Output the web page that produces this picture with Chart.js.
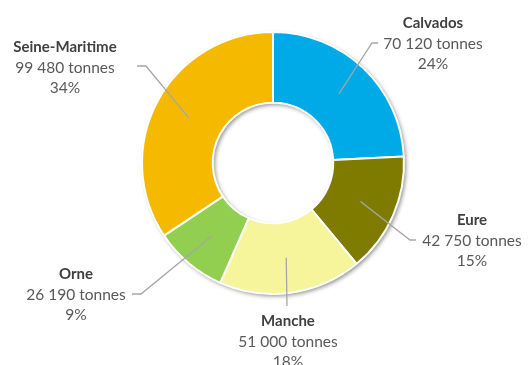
<!DOCTYPE html>
<html>
<head>
<meta charset="utf-8">
<script src="https://cdn.jsdelivr.net/npm/chart.js@4"></script>
<style>
  html, body { margin: 0; padding: 0; background: #fff; }
  #wrap { width: 529px; height: 365px; }
</style>
</head>
<body>
<div id="wrap"><canvas id="chart" width="529" height="365"></canvas></div>
<script>
// ── Data ──
const departements = ['Calvados', 'Eure', 'Manche', 'Orne', 'Seine-Maritime'];
const tonnages = [70120, 42750, 51000, 26190, 99480];
const sliceColors = ['#00AAE6', '#7F7B00', '#F7F59B', '#92CF50', '#F5BA00'];

// label placement, offsets from the doughnut centre (text centre of first line, elbow, line end)
const labelLayout = [
  { text: [160, -140], elbow: [99, -120], end: [105, -120] },
  { text: [199, 57], elbow: [137, 77], end: [143, 77] },
  { text: [15, 158], elbow: null, end: [14, 143] },
  { text: [-197, 111], elbow: [-132, 131], end: [-141, 131] },
  { text: [-208, -116], elbow: [-127, -97], end: [-136, -97] },
];

const FONT = 'Lato, "Open Sans", sans-serif';
const LINE_H = 20.5;

function fmtTonnes(v) {
  return String(v).replace(/\B(?=(\d{3})+(?!\d))/g, ' ') + ' tonnes';
}

// soft shadow ring behind the doughnut
const shadowRing = {
  id: 'shadowRing',
  beforeDatasetsDraw(chart) {
    const arc = chart.getDatasetMeta(0).data[0];
    if (!arc) return;
    const { x, y, outerRadius, innerRadius } = arc.getProps(['x', 'y', 'outerRadius', 'innerRadius'], true);
    const ctx = chart.ctx;
    ctx.save();
    ctx.shadowColor = 'rgba(0,0,0,0.45)';
    ctx.shadowBlur = 4;
    ctx.shadowOffsetX = 2;
    ctx.shadowOffsetY = 2;
    ctx.fillStyle = '#ffffff';
    ctx.beginPath();
    ctx.arc(x, y, outerRadius, 0, Math.PI * 2);
    ctx.arc(x, y, innerRadius, Math.PI * 2, 0, true);
    ctx.closePath();
    ctx.fill();
    ctx.restore();
  }
};

// leader lines + labels
const outerLabels = {
  id: 'outerLabels',
  afterDatasetsDraw(chart) {
    const ctx = chart.ctx;
    const meta = chart.getDatasetMeta(0);
    const values = chart.data.datasets[0].data;
    const total = values.reduce((a, b) => a + b, 0);
    meta.data.forEach((arc, i) => {
      const p = arc.getProps(['x', 'y', 'startAngle', 'endAngle', 'innerRadius', 'outerRadius'], true);
      const mid = (p.startAngle + p.endAngle) / 2;
      const r = (p.innerRadius + p.outerRadius) / 2;
      const ax = p.x + Math.cos(mid) * r;
      const ay = p.y + Math.sin(mid) * r;
      const L = labelLayout[i];

      ctx.save();
      ctx.strokeStyle = '#A6A6A6';
      ctx.lineWidth = 1.3;
      ctx.beginPath();
      ctx.moveTo(ax, ay);
      if (L.elbow) ctx.lineTo(p.x + L.elbow[0], p.y + L.elbow[1]);
      ctx.lineTo(p.x + L.end[0], p.y + L.end[1]);
      ctx.stroke();

      const tx = p.x + L.text[0];
      const ty = p.y + L.text[1];
      ctx.textAlign = 'center';
      ctx.textBaseline = 'middle';
      ctx.fillStyle = '#404040';
      ctx.font = 'bold 15px ' + FONT;
      ctx.fillText(chart.data.labels[i], tx, ty);
      ctx.fillStyle = '#595959';
      ctx.font = '15.5px ' + FONT;
      ctx.fillText(fmtTonnes(values[i]), tx, ty + LINE_H);
      ctx.fillText(Math.round(values[i] / total * 100) + '%', tx, ty + 2 * LINE_H);
      ctx.restore();
    });
  }
};

new Chart(document.getElementById('chart'), {
  type: 'doughnut',
  data: {
    labels: departements,
    datasets: [{
      data: tonnages,
      backgroundColor: sliceColors,
      borderColor: '#ffffff',
      borderWidth: 2,
    }]
  },
  options: {
    responsive: false,
    animation: false,
    cutout: '46%',
    layout: { padding: { top: 31, bottom: 70, left: 141, right: 124 } },
    plugins: {
      legend: { display: false },
      tooltip: { enabled: false },
    },
  },
  plugins: [shadowRing, outerLabels]
});
</script>
</body>
</html>
